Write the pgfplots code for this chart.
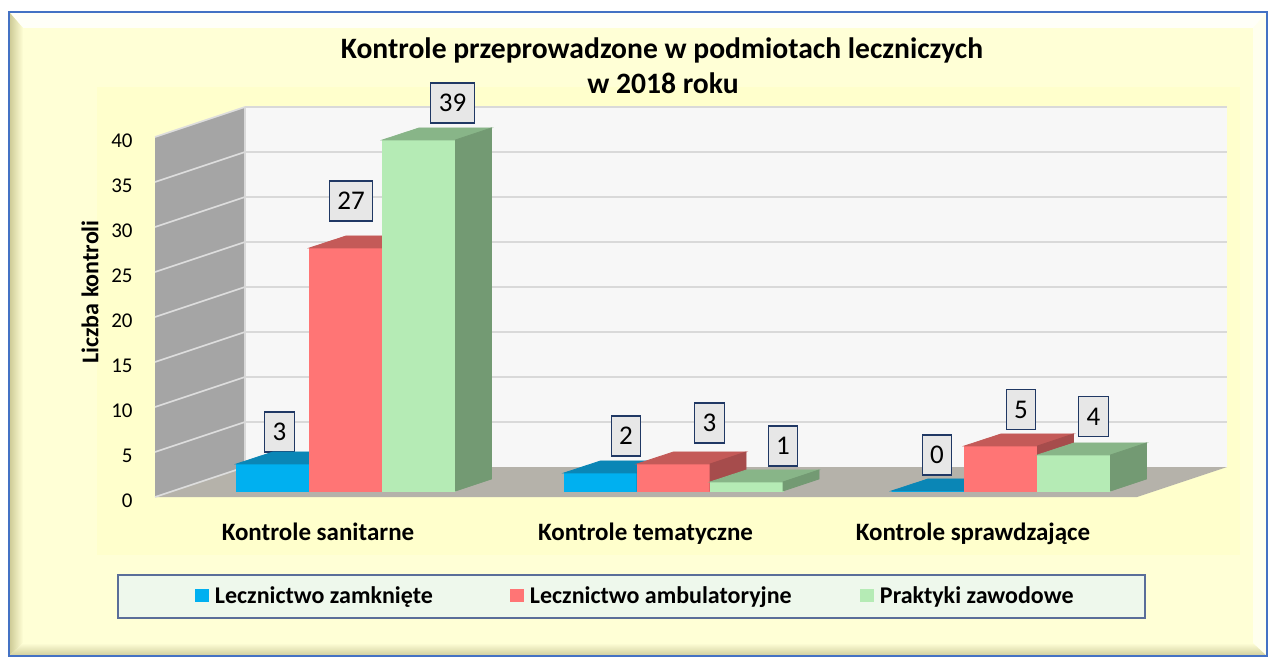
\documentclass[border=0pt]{standalone}
\usepackage{pgfplots}
\pgfplotsset{compat=1.18}
\usepackage{pgfplotstable}
\usepackage{fontspec}
\setmainfont{Carlito}
\definecolor{outerY}{HTML}{FFFFD6}
\definecolor{innerY}{HTML}{FFFFCC}
\definecolor{bevelL}{HTML}{CFCC98}
\definecolor{bevelB}{HTML}{D2D0A0}
\definecolor{frameblue}{HTML}{4472C4}
\definecolor{legbg}{HTML}{EEF8EC}
\definecolor{legdraw}{HTML}{5A6E99}
\definecolor{lblfill}{HTML}{E7E7E7}
\definecolor{lbldraw}{HTML}{203864}
\definecolor{sidewall}{HTML}{A5A5A5}
\definecolor{sideline}{HTML}{DDDDDD}
\definecolor{backwall}{HTML}{F7F7F7}
\definecolor{gridc}{HTML}{D9D9D9}
\definecolor{floorc}{HTML}{B5B2AA}
\definecolor{bluef}{HTML}{00B0F0}
\definecolor{bluet}{HTML}{0A86B6}
\definecolor{blues}{HTML}{08729C}
\definecolor{redf}{HTML}{FF7575}
\definecolor{redt}{HTML}{C45A58}
\definecolor{reds}{HTML}{A64C4C}
\definecolor{greenf}{HTML}{B5EBB5}
\definecolor{greent}{HTML}{88B588}
\definecolor{greens}{HTML}{739A73}

\pgfdeclareplotmark{none3d}{}

% lx, ly: offsets (pt) of the value label from the top of the bar's x position
\pgfplotstableread{
x y lx ly
0 3 -33.25 16
1 2 -23.75 18.5
2 0 -32 18
}\tzamk
\pgfplotstableread{
x y lx ly
0 27 2.5 23.5
1 3 18 20.5
2 5 10 18.25
}\tamb
\pgfplotstableread{
x y lx ly
0 39 53.25 18.5
1 1 54.75 18
2 4 46.25 19.25
}\tprak

\pgfplotsset{
  box3d/.style n args={4}{
    forget plot, scatter, only marks, mark=none3d,
    visualization depends on={\thisrow{y} \as \vy},
    scatter/@pre marker code/.code={%
      \pgfmathsetmacro\hh{\vy*4.5}%
      \pgfmathsetmacro\hb{6-\hh}%
      \pgfmathsetmacro\xa{#1-18.25}%
      \pgfmathsetmacro\xb{#1+18.25}%
      \pgfmathsetmacro\xc{#1+36.25}%
      \fill[#2] (\xa pt,0pt) rectangle (\xb pt,-\hh pt);%
      \fill[#3] (\xa pt,0pt) -- (\xb pt,0pt) -- (\xc pt,6pt) -- (#1pt,6pt) -- cycle;%
      \fill[#4] (\xb pt,0pt) -- (\xc pt,6pt) -- (\xc pt,\hb pt) -- (\xb pt,-\hh pt) -- cycle;%
    },
    scatter/@post marker code/.code={},
  },
  lbl/.style={
    nodes near coords,
    visualization depends on={\thisrow{lx} \as \lx},
    visualization depends on={\thisrow{ly} \as \ly},
    every node near coord/.append style={anchor=center,
      font=\fontsize{13.5}{16}\selectfont, fill=lblfill, draw=lbldraw,
      line width=0.6pt, inner xsep=4pt, inner ysep=0pt, minimum height=20pt,
      xshift=\lx pt, yshift=\ly pt},
  },
}

\begin{document}
\begin{tikzpicture}
\begin{scope}[x=0.5pt,y=-0.5pt]
  \fill[white] (0,0) rectangle (1268,657);
  \fill[outerY] (9,12) rectangle (1267,656);
  \fill[white, opacity=0.85] (10,13) -- (1266,13) -- (1253,28) -- (23,28) -- cycle;
  \shade[left color=bevelL, right color=outerY] (10,13) -- (23,28) -- (23,643) -- (10,655) -- cycle;
  \shade[top color=outerY, bottom color=bevelB] (10,655) -- (23,643) -- (1253,643) -- (1266,655) -- cycle;
  \fill[white, opacity=0.6] (1266,13) -- (1253,28) -- (1253,643) -- (1266,655) -- cycle;
  \draw[frameblue, line width=0.8pt] (9,12) rectangle (1267,656);
  \fill[innerY] (97,87) rectangle (1240,555);
  \draw[fill=legbg, draw=legdraw, line width=0.6pt] (118,575) rectangle (1145,618);
  \node[font=\fontsize{14.8}{17}\selectfont\bfseries, anchor=base] at (662,59) {Kontrole przeprowadzone w podmiotach leczniczych};
  \node[font=\fontsize{14.8}{17}\selectfont\bfseries, anchor=base] at (663,94) {w 2018 roku};
\end{scope}
\begin{axis}[
  at={(77.5pt,-248.5pt)}, anchor=south west,
  x=163.75pt, y=4.5pt,
  xmin=-0.58321, xmax=2.41526, ymin=-0.67, ymax=39.33,
  clip=false,
  axis line style={draw=none},
  tick style={draw=none},
  /pgf/number format/assume math mode=true,
  xtick={0,1,2},
  xticklabels={Kontrole sanitarne, Kontrole tematyczne, Kontrole sprawdzające},
  xticklabel style={anchor=base, inner sep=0pt, xshift=-14pt, yshift=-21.5pt, font=\fontsize{12.5}{14}\selectfont\bfseries},
  ytick={-0.67,4.33,9.33,14.33,19.33,24.33,29.33,34.33,39.33},
  yticklabels={0,5,10,15,20,25,30,35,40},
  yticklabel style={anchor=east, inner sep=0pt, xshift=-11pt, yshift=-2pt, font=\fontsize{10.5}{12}\selectfont},
  ylabel={Liczba kontroli},
  ylabel style={font=\fontsize{12}{14}\selectfont\bfseries, at={(axis description cs:-0.0662,0.5694)}, anchor=center},
  legend columns=3,
  legend style={at={(axis description cs:0.040733,-0.27639)}, anchor=west, draw=none, fill=none,
    inner sep=0pt, outer sep=0pt, font=\fontsize{12}{14}\selectfont\bfseries,
    nodes={inner sep=0pt}, column sep=0pt,
    /tikz/every odd column/.append style={column sep=3pt}},
]
% walls and floor
\fill[sidewall] (axis cs:-0.58321,-0.67) -- (axis cs:-0.58321,39.33) -- (axis cs:-0.30840,42.66333) -- (axis cs:-0.30840,2.66333) -- cycle;
\fill[backwall] (axis cs:-0.30840,2.66333) rectangle (axis cs:2.69007,42.66333);
\fill[floorc] (axis cs:-0.58321,-0.67) -- (axis cs:2.41526,-0.67) -- (axis cs:2.69007,2.66333) -- (axis cs:-0.30840,2.66333) -- cycle;
% side wall grid lines
\draw[sideline, line width=0.8pt] (axis cs:-0.58321,-0.67) -- (axis cs:-0.30840,2.66333);
\draw[sideline, line width=0.8pt] (axis cs:-0.58321,4.33) -- (axis cs:-0.30840,7.66333);
\draw[sideline, line width=0.8pt] (axis cs:-0.58321,9.33) -- (axis cs:-0.30840,12.66333);
\draw[sideline, line width=0.8pt] (axis cs:-0.58321,14.33) -- (axis cs:-0.30840,17.66333);
\draw[sideline, line width=0.8pt] (axis cs:-0.58321,19.33) -- (axis cs:-0.30840,22.66333);
\draw[sideline, line width=0.8pt] (axis cs:-0.58321,24.33) -- (axis cs:-0.30840,27.66333);
\draw[sideline, line width=0.8pt] (axis cs:-0.58321,29.33) -- (axis cs:-0.30840,32.66333);
\draw[sideline, line width=0.8pt] (axis cs:-0.58321,34.33) -- (axis cs:-0.30840,37.66333);
\draw[sideline, line width=0.8pt] (axis cs:-0.58321,39.33) -- (axis cs:-0.30840,42.66333);
% back wall grid lines
\draw[gridc, line width=1pt] (axis cs:-0.30840,7.66333) -- (axis cs:2.69007,7.66333);
\draw[gridc, line width=1pt] (axis cs:-0.30840,12.66333) -- (axis cs:2.69007,12.66333);
\draw[gridc, line width=1pt] (axis cs:-0.30840,17.66333) -- (axis cs:2.69007,17.66333);
\draw[gridc, line width=1pt] (axis cs:-0.30840,22.66333) -- (axis cs:2.69007,22.66333);
\draw[gridc, line width=1pt] (axis cs:-0.30840,27.66333) -- (axis cs:2.69007,27.66333);
\draw[gridc, line width=1pt] (axis cs:-0.30840,32.66333) -- (axis cs:2.69007,32.66333);
\draw[gridc, line width=1pt] (axis cs:-0.30840,37.66333) -- (axis cs:2.69007,37.66333);
\draw[gridc, line width=1pt] (axis cs:-0.30840,42.66333) -- (axis cs:2.69007,42.66333);
\draw[gridc, line width=0.8pt] (axis cs:-0.30840,2.66333) -- (axis cs:-0.30840,42.66333);

% flat bars: legend entries and value labels
\addplot[ybar, bar width=36.5pt, bar shift=-36.5pt, fill=bluef, draw=none, lbl,
  legend image code/.code={\fill[bluef] (0pt,-2.5pt) rectangle (7pt,4pt);}]
  table[x=x,y=y] {\tzamk};
\addlegendentry{\makebox[147.5pt][l]{Lecznictwo zamknięte}}
\addplot[ybar, bar width=36.5pt, bar shift=0pt, fill=redf, draw=none, lbl,
  legend image code/.code={\fill[redf] (0pt,-2.5pt) rectangle (7pt,4pt);}]
  table[x=x,y=y] {\tamb};
\addlegendentry{\makebox[165pt][l]{Lecznictwo ambulatoryjne}}
\addplot[ybar, bar width=36.5pt, bar shift=36.5pt, fill=greenf, draw=none, lbl,
  legend image code/.code={\fill[greenf] (0pt,-2.5pt) rectangle (7pt,4pt);}]
  table[x=x,y=y] {\tprak};
\addlegendentry{Praktyki zawodowe}

% 3-D boxes (front, top and side faces), drawn left to right
\addplot[box3d={-36.5}{bluef}{bluet}{blues}] table[x=x,y=y] {\tzamk};
\addplot[box3d={0}{redf}{redt}{reds}] table[x=x,y=y] {\tamb};
\addplot[box3d={36.5}{greenf}{greent}{greens}] table[x=x,y=y] {\tprak};
\end{axis}
\end{tikzpicture}
\end{document}
